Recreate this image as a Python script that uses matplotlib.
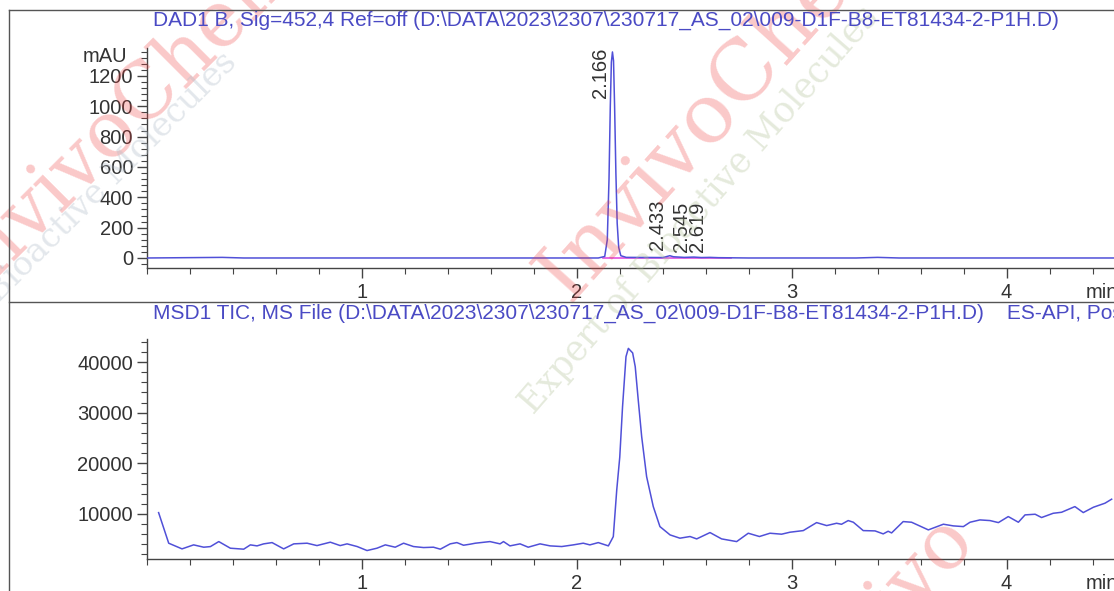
import matplotlib
matplotlib.use('Agg')
import matplotlib.pyplot as plt
from matplotlib.lines import Line2D
from matplotlib.ticker import MultipleLocator

plt.rcParams['font.family'] = ['Liberation Sans', 'DejaVu Sans']

# ── DAD1 B trace (mAU vs min) ──
dad_time = [0.0, 0.35, 0.45, 2.10, 2.130, 2.142, 2.150, 2.156, 2.161, 2.166, 2.171, 2.176,
            2.182, 2.188, 2.195, 2.205, 2.23, 2.40, 2.42, 2.433, 2.45, 2.50, 2.545, 2.58,
            2.619, 2.66, 2.80, 3.30, 3.40, 3.50, 4.5]
dad_mau = [0, 4, 0, 0, 10, 120, 520, 1000, 1290, 1358, 1300, 1000,
           560, 230, 70, 15, 4, 3, 10, 15, 8, 4, 6, 3,
           4, 2, 0, 0, 4, 0, 0]
peak_rt = [2.166, 2.433, 2.545, 2.619]
peak_h = [1358, 15, 6, 4]
baseline_span = [2.12, 2.72]

# ── MSD1 TIC trace ──
tic_time = [0.054, 0.101, 0.163, 0.217, 0.264, 0.295, 0.334, 0.388, 0.450, 0.481, 0.512,
            0.543, 0.582, 0.636, 0.683, 0.745, 0.791, 0.853, 0.899, 0.931, 0.978, 1.024,
            1.070, 1.109, 1.155, 1.194, 1.240, 1.287, 1.333, 1.365, 1.411, 1.442, 1.473,
            1.503, 1.528, 1.596, 1.643, 1.659, 1.689, 1.736, 1.774, 1.829, 1.876, 1.930,
            1.984, 2.030, 2.061, 2.100, 2.147, 2.162, 2.170, 2.186, 2.200, 2.213, 2.229,
            2.240, 2.260, 2.272, 2.286, 2.302, 2.325, 2.356, 2.387, 2.434, 2.480, 2.527,
            2.558, 2.620, 2.674, 2.744, 2.798, 2.850, 2.899, 2.953, 2.992, 3.054, 3.116,
            3.163, 3.209, 3.232, 3.263, 3.287, 3.333, 3.388, 3.426, 3.449, 3.465, 3.519,
            3.558, 3.636, 3.706, 3.752, 3.799, 3.830, 3.876, 3.923, 3.962, 4.008, 4.055,
            4.086, 4.133, 4.163, 4.217, 4.256, 4.318, 4.357, 4.404, 4.458, 4.489]
tic_counts = [10260, 4220, 3100, 3890, 3430, 3550, 4540, 3230, 3040, 3890, 3690,
              4090, 4340, 3100, 4090, 4220, 3750, 4420, 3750, 4090, 3560, 2770,
              3230, 3890, 3430, 4220, 3560, 3360, 3430, 3040, 4090, 4340, 3820,
              4020, 4220, 4540, 4090, 4540, 3690, 4090, 3430, 4090, 3690, 3560,
              3890, 4220, 3890, 4340, 3690, 4880, 5530, 14750, 21200, 31190, 41060,
              42700, 41800, 39090, 32510, 25270, 17370, 11450, 7500, 5860, 5210, 5540,
              5070, 6320, 5070, 4540, 6190, 5540, 6190, 6000, 6390, 6710, 8290,
              7700, 8160, 7960, 8690, 8360, 6710, 6650, 6060, 6580, 6250, 8490,
              8360, 6850, 7970, 7640, 7500, 8360, 8820, 8690, 8290, 9480, 8360,
              9810, 9940, 9290, 10130, 10330, 11450, 10270, 11320, 12120, 12910]

title_dad = r'DAD1 B, Sig=452,4 Ref=off (D:\DATA\2023\2307\230717_AS_02\009-D1F-B8-ET81434-2-P1H.D)'
title_msd = r'MSD1 TIC, MS File (D:\DATA\2023\2307\230717_AS_02\009-D1F-B8-ET81434-2-P1H.D)    ES-API, Pos'

TRACE = '#5050d8'
TITLE = '#4a4ac4'
TEXT = '#333333'
FS = 14.5
W, H = 1114, 591

fig = plt.figure(figsize=(W / 100, H / 100), dpi=100)

# watermark (faint)
wm = dict(transform=fig.transFigure, zorder=0, ha='center', va='center', fontfamily='DejaVu Serif')
fig.text(0.646, 0.83, 'InvivoChem', fontsize=60, rotation=48, color='#f03c3c', alpha=0.28, **wm)
fig.text(0.628, 0.645, 'Expert of Bioactive Molecules', fontsize=25, rotation=49,
         color='#b4c49c', alpha=0.35, **wm)
fig.text(0.11, 0.80, 'InvivoChem', fontsize=56, rotation=45, color='#f03c3c', alpha=0.28, **wm)
fig.text(0.10, 0.70, 'Bioactive Molecules', fontsize=24, rotation=45, color='#b0bcc8', alpha=0.35, **wm)
fig.text(0.79, -0.04, 'Invivo', fontsize=56, rotation=48, color='#f03c3c', alpha=0.28, **wm)


def style_axes(ax):
    ax.set_facecolor('none')
    for s in ('top', 'right'):
        ax.spines[s].set_visible(False)
    for s in ('left', 'bottom'):
        ax.spines[s].set_color('#444444')
        ax.spines[s].set_linewidth(1.0)
    ax.set_xlim(0, 4.5)
    ax.xaxis.set_minor_locator(MultipleLocator(0.2))
    ax.set_xticks([1, 2, 3, 4])
    ax.tick_params(axis='x', which='major', length=7, width=1.0, color='#444444',
                   labelsize=FS, labelcolor=TEXT, pad=4)
    ax.tick_params(axis='y', which='major', length=7, width=1.0, color='#444444',
                   labelsize=FS, labelcolor=TEXT, pad=3)
    ax.tick_params(which='minor', length=4, width=0.8, color='#444444')
    ax.annotate('min', xy=(4.37, 0), xycoords=('data', 'axes fraction'), xytext=(0, -11),
                textcoords='offset points', fontsize=FS, color=TEXT, ha='left', va='top',
                annotation_clip=False)


# top panel: DAD
ax1 = fig.add_axes([147 / W, 1 - 268 / H, 1 - 147 / W, 220 / H])
style_axes(ax1)
ax1.set_ylim(-66, 1384)
ax1.set_yticks(range(0, 1400, 200))
ax1.yaxis.set_minor_locator(MultipleLocator(40))
ax1.plot(baseline_span, [0, 0], color='#e050e0', lw=1.2, zorder=2)
ax1.plot(dad_time, dad_mau, color=TRACE, lw=1.1, zorder=3)
for rt, h in zip(peak_rt, peak_h):
    big = h > 1000
    ax1.annotate(f'{rt:.3f}', xy=(rt, h), xytext=(-2, 3 if big else 4), textcoords='offset points',
                 rotation=90, ha='right', va='top' if big else 'bottom', fontsize=FS, color=TEXT)
ax1.annotate('mAU', xy=(0, 1325), xytext=(-14, 0), textcoords='offset points',
             ha='right', va='center', fontsize=FS, color=TEXT)
fig.text(153 / W, 1 - 20 / H, title_dad, fontsize=15, color=TITLE, ha='left', va='center')

# bottom panel: TIC
ax2 = fig.add_axes([147 / W, 1 - 559 / H, 1 - 147 / W, 220 / H])
style_axes(ax2)
ax2.set_ylim(1100, 44550)
ax2.set_yticks([10000, 20000, 30000, 40000])
ax2.yaxis.set_minor_locator(MultipleLocator(2000))
ax2.plot(tic_time, tic_counts, color=TRACE, lw=1.1, zorder=3)
fig.text(153 / W, 1 - 313 / H, title_msd, fontsize=15, color=TITLE, ha='left', va='center')

# panel frames
frame = dict(color='#555555', lw=1.0, transform=fig.transFigure)
fig.add_artist(Line2D([9 / W, 9 / W], [0, 1 - 10 / H], **frame))
fig.add_artist(Line2D([9 / W, 1], [1 - 10 / H, 1 - 10 / H], **frame))
fig.add_artist(Line2D([9 / W, 1], [1 - 302 / H, 1 - 302 / H], **frame))

fig.savefig('out.png', dpi=100)
